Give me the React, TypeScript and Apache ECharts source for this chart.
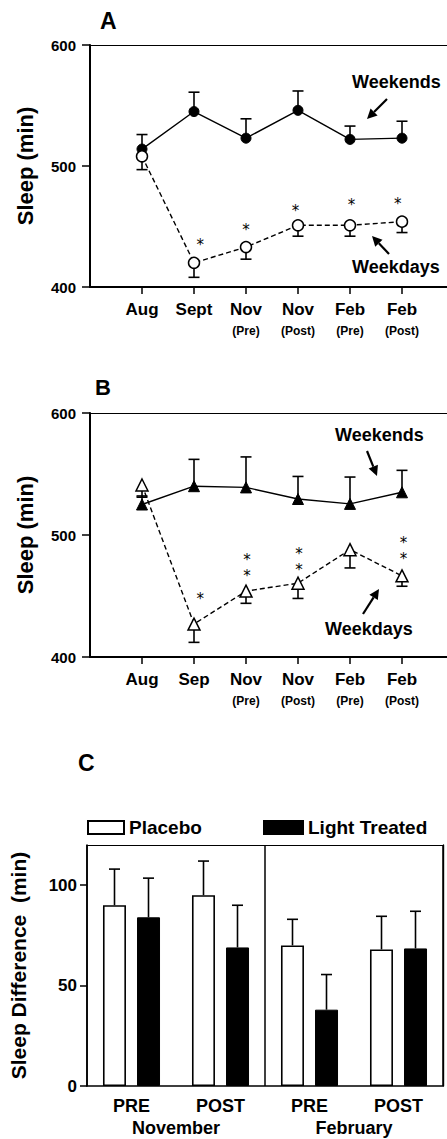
import React, { useEffect, useRef } from 'react';
import * as echarts from 'echarts';

const FONT = 'Liberation Sans, Arial, Helvetica, sans-serif';

// ---- Panel A / B categories ----
const monthsA = ['Aug', 'Sept', 'Nov', 'Nov', 'Feb', 'Feb'];
const monthsB = ['Aug', 'Sep', 'Nov', 'Nov', 'Feb', 'Feb'];
const phases = ['', '', '(Pre)', '(Post)', '(Pre)', '(Post)'];
const positions = [1, 2, 3, 4, 5, 6];
const yTicksAB = [400, 500, 600];

// ---- Panel A ----
const aWeekends = [514, 545, 523, 546, 522, 523];
const aWeekendsErr = [526, 561, 539, 562, 533, 537];
const aWeekdays = [508, 420, 433, 451, 451, 454];
const aWeekdaysErr = [497, 408, 423, 442, 442, 445];
// [x, y (centre of the asterisk group), number of asterisks]
const aStars = [[2.12, 437, 1], [3.0, 450, 1], [3.95, 465, 1], [5.03, 470, 1], [5.92, 471, 1]];

// ---- Panel B ----
const bWeekends = [525, 540, 539, 529.5, 525.5, 535];
const bWeekendsErr = [532, 562, 564, 548, 547.5, 553];
const bWeekdays = [541, 427, 454, 460.5, 488, 466.5];
const bWeekdaysErr = [531, 412, 444, 448, 473, 458];
const bStars = [[2.12, 450, 1], [3.02, 475.5, 2], [4.02, 480, 2], [6.03, 489, 2]];

// ---- Panel C ----
const cPhases = ['PRE', 'POST', 'PRE', 'POST'];
const cMonths = ['November', 'February'];
const placebo = [90, 95, 70, 68];
const placeboErr = [108, 112, 83, 84.5];
const light = [84, 69, 38, 68.5];
const lightErr = [103.5, 90, 55.5, 87];
const yTicksC = [0, 50, 100];

function arrow(x1: number, y1: number, x2: number, y2: number) {
  const dx = x2 - x1, dy = y2 - y1;
  const L = Math.hypot(dx, dy);
  const ux = dx / L, uy = dy / L;
  const hl = 10, hw = 5;
  const bx = x2 - ux * hl, by = y2 - uy * hl;
  return [
    { type: 'line', shape: { x1, y1, x2: bx, y2: by }, style: { stroke: '#000', lineWidth: 2.2 } },
    {
      type: 'polygon',
      shape: { points: [[x2, y2], [bx - uy * hw, by + ux * hw], [bx + uy * hw, by - ux * hw]] },
      style: { fill: '#000' },
    },
  ];
}

function errBar(xIdx: number, yIdx: number, vals: number[], errs: number[], xs: any[], offset: number, cap: number) {
  return {
    type: 'custom',
    xAxisIndex: xIdx,
    yAxisIndex: yIdx,
    z: 1,
    silent: true,
    itemStyle: { color: '#000' },
    data: vals.map((v, i) => [xs[i], v, errs[i]]),
    renderItem: (params: any, api: any) => {
      const p1 = api.coord([api.value(0), api.value(1)]);
      const p2 = api.coord([api.value(0), api.value(2)]);
      const x = p1[0] + offset;
      return {
        type: 'group',
        children: [
          { type: 'line', shape: { x1: x, y1: p1[1], x2: x, y2: p2[1] }, style: { stroke: '#000', lineWidth: 1.6 } },
          { type: 'line', shape: { x1: x - cap, y1: p2[1], x2: x + cap, y2: p2[1] }, style: { stroke: '#000', lineWidth: 1.6 } },
        ],
      };
    },
  };
}

function stars(xIdx: number, yIdx: number, pts: number[][]) {
  return {
    type: 'custom',
    xAxisIndex: xIdx,
    yAxisIndex: yIdx,
    silent: true,
    itemStyle: { color: '#000' },
    data: pts,
    renderItem: (params: any, api: any) => {
      const p = api.coord([api.value(0), api.value(1)]);
      const n = api.value(2);
      const txt = Array.from({ length: n }, () => '*').join('\n');
      return {
        type: 'text',
        x: p[0],
        y: p[1] + 3,
        style: {
          text: txt, fontSize: 15, lineHeight: 16, fontFamily: 'DejaVu Sans', fill: '#000',
          align: 'center', verticalAlign: 'middle',
        },
      };
    },
  };
}

function xAxisAB(grid: number, months: string[]) {
  return {
    type: 'value',
    gridIndex: grid,
    min: 0,
    max: 357 / 52,
    interval: 1,
    position: 'bottom',
    splitLine: { show: false },
    axisLine: { onZero: false, lineStyle: { color: '#000', width: 2 } },
    axisTick: { show: true, inside: false, length: 7, customValues: positions, lineStyle: { color: '#000', width: 1.5 } },
    axisLabel: {
      customValues: positions,
      margin: 12,
      formatter: (v: number) => {
        const i = Math.round(v) - 1;
        if (i < 0 || i > 5) return '';
        const s = phases[i];
        return s ? `{m|${months[i]}}\n{s|${s}}` : `{m|${months[i]}}`;
      },
      rich: {
        m: { fontSize: 17, fontWeight: 'bold', fontFamily: FONT, lineHeight: 20, color: '#000' },
        s: { fontSize: 12, fontWeight: 'bold', fontFamily: FONT, lineHeight: 24, color: '#000' },
      },
    },
  };
}

function topLine(grid: number, type: string, extra: any = {}) {
  return {
    type,
    gridIndex: grid,
    position: 'top',
    ...extra,
    axisLine: { show: true, onZero: false, lineStyle: { color: '#000', width: 1.2 } },
    axisTick: { show: false },
    axisLabel: { show: false },
    splitLine: { show: false },
  };
}

function yAxisAB(grid: number) {
  return {
    type: 'value',
    gridIndex: grid,
    min: 400,
    max: 600,
    interval: 100,
    name: 'Sleep (min)',
    nameLocation: 'middle',
    nameGap: 54,
    nameTextStyle: { fontSize: 22, fontWeight: 'bold', fontFamily: FONT, color: '#000' },
    splitLine: { show: false },
    axisLine: { show: true, onZero: false, lineStyle: { color: '#000', width: 2 } },
    axisTick: { show: true, inside: false, length: 8, lineStyle: { color: '#000', width: 1.5 } },
    axisLabel: { margin: 14, fontSize: 15, fontWeight: 'bold', fontFamily: FONT, color: '#000', customValues: yTicksAB },
  };
}

function lineSeries(xIdx: number, yIdx: number, vals: number[], filled: boolean, symbol: string, size: number, dashed: boolean) {
  return {
    type: 'line',
    xAxisIndex: xIdx,
    yAxisIndex: yIdx,
    z: 3,
    data: vals.map((v, i) => [positions[i], v]),
    symbol,
    symbolSize: size,
    showSymbol: true,
    lineStyle: { color: '#000', width: 1.4, type: dashed ? [5, 3] : 'solid' },
    itemStyle: filled
      ? { color: '#000', borderColor: '#000', borderWidth: 1 }
      : { color: '#fff', borderColor: '#000', borderWidth: 1.5 },
  };
}

export default function App() {
  const ref = useRef<HTMLDivElement>(null);
  useEffect(() => {
    if (!ref.current) return;
    const chart = echarts.init(ref.current, undefined, { renderer: 'svg' });
    const textBold = (size: number) => ({ fontSize: size, fontWeight: 'bold', fontFamily: FONT, fill: '#000' });
    const option: any = {
      animation: false,
      backgroundColor: '#fff',
      color: ['#000'],
      textStyle: { fontFamily: FONT, color: '#000' },
      grid: [
        { left: 90, top: 45, width: 357, height: 242 },
        { left: 90, top: 413, width: 357, height: 244 },
        { left: 82, top: 845, width: 361, height: 241 },
      ],
      legend: [
        {
          data: ['Placebo'], left: 87, top: 818, padding: 0, itemWidth: 36, itemHeight: 13, icon: 'rect', selectedMode: false,
          textStyle: { fontSize: 19, fontWeight: 'bold', fontFamily: FONT, color: '#000' },
        },
        {
          data: ['Light Treated'], left: 263, top: 818, padding: 0, itemWidth: 39, itemHeight: 13, icon: 'rect', selectedMode: false,
          textStyle: { fontSize: 19, fontWeight: 'bold', fontFamily: FONT, color: '#000' },
        },
      ],
      xAxis: [
        xAxisAB(0, monthsA),
        topLine(0, 'value', { min: 0, max: 357 / 52 }),
        xAxisAB(1, monthsB),
        topLine(1, 'value', { min: 0, max: 357 / 52 }),
        {
          type: 'category',
          gridIndex: 2,
          data: cPhases,
          position: 'bottom',
          axisLine: { onZero: false, lineStyle: { color: '#000', width: 1.6 } },
          axisTick: { show: false },
          axisLabel: { margin: 10, fontSize: 18, fontWeight: 'bold', fontFamily: FONT, color: '#000', lineHeight: 20 },
          splitLine: { show: true, interval: 1, lineStyle: { color: '#000', width: 1.5 } },
        },
        topLine(2, 'category', { data: cPhases }),
        {
          type: 'category',
          gridIndex: 2,
          data: cMonths,
          position: 'bottom',
          axisLine: { show: false },
          axisTick: { show: false },
          axisLabel: { margin: 32, fontSize: 18, fontWeight: 'bold', fontFamily: FONT, color: '#000', lineHeight: 20 },
          splitLine: { show: false },
        },
      ],
      yAxis: [
        yAxisAB(0),
        yAxisAB(1),
        {
          type: 'value',
          gridIndex: 2,
          min: 0,
          max: 120,
          interval: 50,
          name: 'Sleep Difference  (min)',
          nameLocation: 'middle',
          nameGap: 58,
          nameTextStyle: { fontSize: 21, fontWeight: 'bold', fontFamily: FONT, color: '#000' },
          splitLine: { show: false },
          axisLine: { show: true, onZero: false, lineStyle: { color: '#000', width: 1.6 } },
          axisTick: { show: true, inside: false, length: 7, customValues: yTicksC, lineStyle: { color: '#000', width: 1.5 } },
          axisLabel: { margin: 10, fontSize: 17, fontWeight: 'bold', fontFamily: FONT, color: '#000', customValues: yTicksC },
        },
        {
          type: 'value',
          gridIndex: 2,
          min: 0,
          max: 120,
          position: 'right',
          axisLine: { show: true, onZero: false, lineStyle: { color: '#000', width: 1.4 } },
          axisTick: { show: false },
          axisLabel: { show: false },
          splitLine: { show: false },
        },
      ],
      series: [
        // Panel A
        errBar(0, 0, aWeekends, aWeekendsErr, positions, 0, 5.5),
        errBar(0, 0, aWeekdays, aWeekdaysErr, positions, 0, 5.5),
        lineSeries(0, 0, aWeekends, true, 'circle', 10, false),
        lineSeries(0, 0, aWeekdays, false, 'circle', 11, true),
        stars(0, 0, aStars),
        // Panel B
        errBar(2, 1, bWeekends, bWeekendsErr, positions, 0, 5.5),
        errBar(2, 1, bWeekdays, bWeekdaysErr, positions, 0, 5.5),
        lineSeries(2, 1, bWeekends, true, 'triangle', 11, false),
        lineSeries(2, 1, bWeekdays, false, 'triangle', 12, true),
        stars(2, 1, bStars),
        // Panel C
        {
          name: 'Placebo',
          type: 'bar',
          xAxisIndex: 4,
          yAxisIndex: 2,
          barWidth: 23,
          barGap: '48%',
          data: placebo,
          itemStyle: { color: '#fff', borderColor: '#000', borderWidth: 1.6 },
        },
        {
          name: 'Light Treated',
          type: 'bar',
          xAxisIndex: 4,
          yAxisIndex: 2,
          barWidth: 23,
          barGap: '48%',
          data: light,
          itemStyle: { color: '#000', borderColor: '#000', borderWidth: 1 },
        },
        { ...errBar(4, 2, placebo, placeboErr, [0, 1, 2, 3], -17, 5.5), z: 3 },
        { ...errBar(4, 2, light, lightErr, [0, 1, 2, 3], 17, 5.5), z: 3 },
      ],
      graphic: [
        { type: 'text', x: 100, y: 21, style: { text: 'A', ...textBold(23), verticalAlign: 'middle' } },
        { type: 'text', x: 95, y: 387, style: { text: 'B', ...textBold(22), verticalAlign: 'middle' } },
        { type: 'text', x: 78, y: 763, style: { text: 'C', ...textBold(23), verticalAlign: 'middle' } },
        { type: 'text', x: 352, y: 82, style: { text: 'Weekends', ...textBold(18), verticalAlign: 'middle' } },
        { type: 'text', x: 352, y: 267, style: { text: 'Weekdays', ...textBold(18), verticalAlign: 'middle' } },
        { type: 'text', x: 335, y: 435, style: { text: 'Weekends', ...textBold(18), verticalAlign: 'middle' } },
        { type: 'text', x: 325, y: 629, style: { text: 'Weekdays', ...textBold(18), verticalAlign: 'middle' } },
        ...arrow(387, 99, 367, 119),
        ...arrow(389, 254, 372, 236),
        ...arrow(367, 451, 377, 476),
        ...arrow(363, 614, 379, 589),
      ],
    };
    chart.setOption(option);
    return () => chart.dispose();
  }, []);
  return <div ref={ref} style={{ position: 'absolute', left: 0, top: 0, width: 447, height: 1139 }} />;
}
